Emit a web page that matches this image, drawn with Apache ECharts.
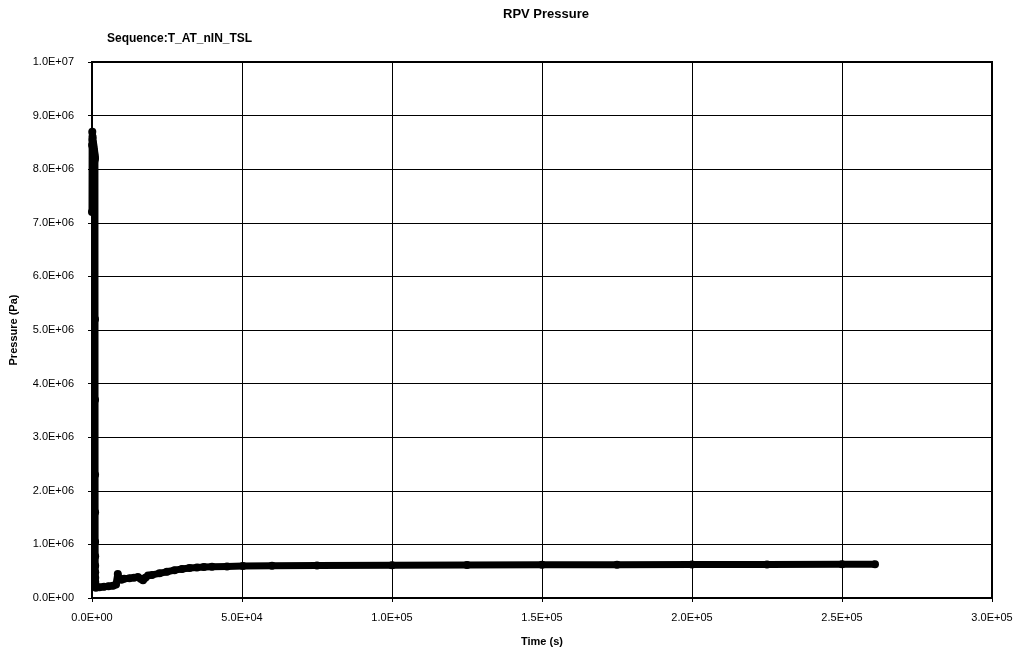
<!DOCTYPE html>
<html>
<head>
<meta charset="utf-8">
<script src="https://cdn.jsdelivr.net/npm/echarts@6/dist/echarts.min.js"></script>
<style>
  html, body { margin: 0; padding: 0; background: #fff; }
  #chart { width: 1022px; height: 655px; }
</style>
</head>
<body>
<div id="chart"></div>
<script>
// RPV pressure history, sequence T_AT_nIN_TSL
const timeS = [
  0, 40, 100, 160, 220, 280, 340, 400, 460, 520, 580, 640, 700, 760, 820, 880, 940,
  980, 1000, 1010, 1020, 1030, 1040, 1050, 1060, 1070, 1080, 1090, 1100, 1150, 1300,
  2500, 4000, 5500, 7000, 8000, 8600, 9000, 9800, 10700, 12500, 14000, 15300,
  16200, 17000, 17800, 18700, 20000, 22500, 25000, 27500, 30000, 32500, 35000,
  37300, 40000, 45000, 50300, 60000, 75000, 100000, 125000, 150000, 175000,
  200000, 225000, 250000, 261000
];
const pressurePa = [
  7.2e6, 8.45e6, 8.7e6, 8.55e6, 8.6e6, 8.4e6, 8.5e6, 8.3e6, 8.45e6, 8.25e6, 8.4e6,
  8.2e6, 8.35e6, 8.15e6, 8.3e6, 8.2e6, 8.25e6,
  8.2e6, 5.2e6, 3.7e6, 2.3e6, 1.6e6, 1.05e6, 0.78e6, 0.6e6, 0.48e6, 0.38e6, 0.3e6,
  0.25e6, 0.21e6, 0.19e6,
  0.2e6, 0.21e6, 0.22e6, 0.23e6, 0.25e6, 0.45e6, 0.36e6, 0.34e6, 0.36e6, 0.37e6,
  0.38e6, 0.39e6,
  0.36e6, 0.33e6, 0.38e6, 0.42e6, 0.43e6, 0.46e6, 0.49e6, 0.52e6, 0.54e6, 0.56e6,
  0.57e6,
  0.58e6, 0.585e6, 0.59e6, 0.595e6, 0.6e6, 0.605e6, 0.61e6, 0.615e6, 0.62e6,
  0.62e6, 0.625e6, 0.625e6, 0.63e6, 0.63e6
];
const titleText = 'RPV Pressure';
const sequenceText = 'Sequence:T_AT_nIN_TSL';
const xAxisTitle = 'Time (s)';
const yAxisTitle = 'Pressure (Pa)';

// Excel-style scientific labels, e.g. 1.0E+07
function sci(v) {
  if (v === 0) return '0.0E+00';
  const exp = Math.floor(Math.log10(Math.abs(v)));
  const mant = v / Math.pow(10, exp);
  const sign = exp < 0 ? '-' : '+';
  const e = String(Math.abs(exp)).padStart(2, '0');
  return mant.toFixed(1) + 'E' + sign + e;
}

const points = timeS.map((t, i) => [t, pressurePa[i]]);
const font = 'Liberation Sans, Arial, sans-serif';

const chart = echarts.init(document.getElementById('chart'), null, { renderer: 'canvas' });
chart.setOption({
  animation: false,
  backgroundColor: '#ffffff',
  title: [
    {
      text: titleText, left: 541, top: 3, textAlign: 'center',
      textStyle: { fontFamily: font, fontSize: 13, fontWeight: 'bold', color: '#000' }
    },
    {
      text: sequenceText, left: 102, top: 28,
      textStyle: { fontFamily: font, fontSize: 12, fontWeight: 'bold', color: '#000' }
    }
  ],
  grid: {
    left: 91, right: 30, top: 62, bottom: 57,
    show: true, borderColor: '#000', borderWidth: 2, backgroundColor: 'transparent'
  },
  xAxis: {
    type: 'value', min: 0, max: 300000, interval: 50000,
    name: xAxisTitle, nameLocation: 'middle', nameGap: 38,
    nameTextStyle: { fontFamily: font, fontSize: 11, fontWeight: 'bold', color: '#000' },
    axisLine: { show: true, onZero: false, lineStyle: { color: '#000', width: 2 } },
    axisTick: { show: true, length: 4, lineStyle: { color: '#000' } },
    axisLabel: { formatter: sci, fontFamily: font, fontSize: 11, color: '#000', margin: 14 },
    splitLine: { show: true, lineStyle: { color: '#000', width: 1 } }
  },
  yAxis: {
    type: 'value', min: 0, max: 10000000, interval: 1000000,
    name: yAxisTitle, nameLocation: 'middle', nameGap: 73, nameRotate: 90,
    nameTextStyle: { fontFamily: font, fontSize: 11, fontWeight: 'bold', color: '#000' },
    axisLine: { show: true, lineStyle: { color: '#000', width: 2 } },
    axisTick: { show: true, length: 4, lineStyle: { color: '#000' } },
    axisLabel: { formatter: sci, fontFamily: font, fontSize: 11, color: '#000', margin: 18 },
    splitLine: { show: true, lineStyle: { color: '#000', width: 1 } }
  },
  series: [{
    type: 'line',
    data: points,
    showAllSymbol: true,
    symbol: 'circle',
    symbolSize: 8,
    itemStyle: { color: '#000' },
    lineStyle: { color: '#000', width: 7 },
    z: 5
  }]
});
</script>
</body>
</html>
